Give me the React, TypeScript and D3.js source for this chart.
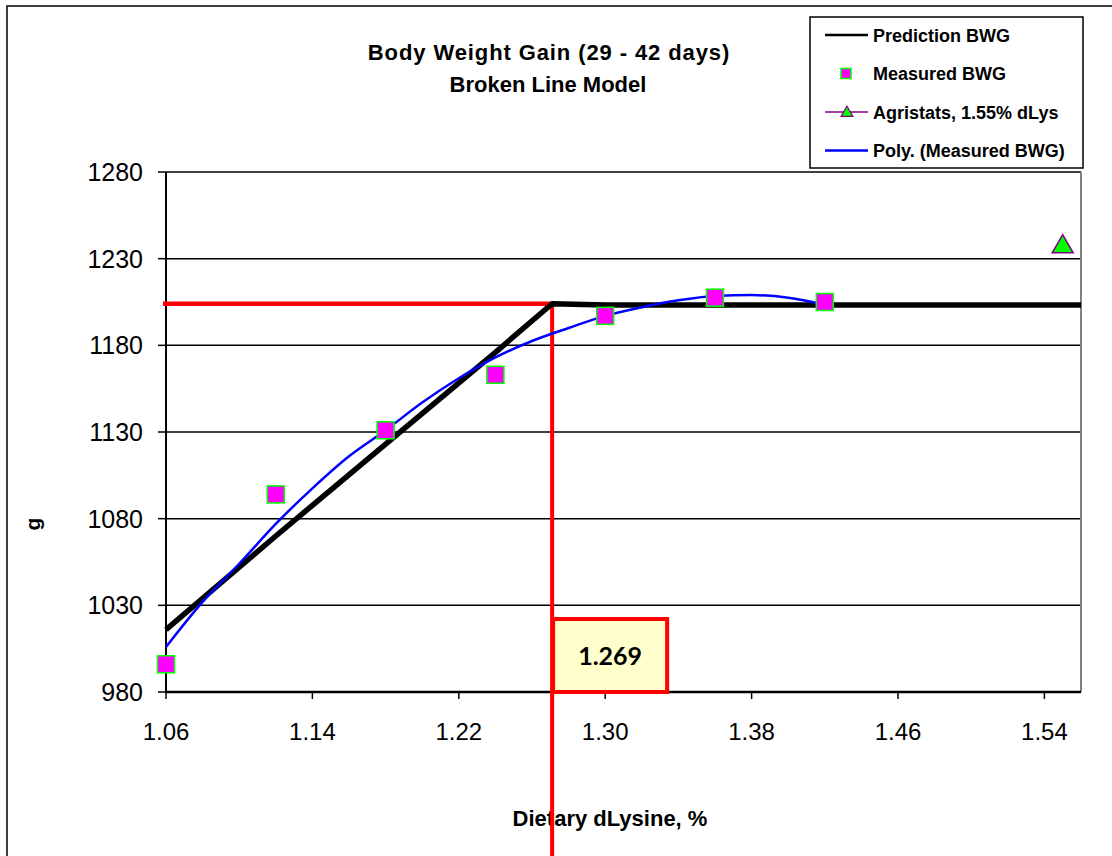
import React from 'react';
import * as d3 from 'd3';

// measured body weight gain (g)
const measuredX = [1.06, 1.12, 1.18, 1.24, 1.30, 1.36, 1.42];
const measuredY = [996, 1094, 1131, 1163, 1197, 1207.5, 1205];

// broken line prediction
const predX = [1.06, 1.12, 1.18, 1.24, 1.271, 1.30, 1.36, 1.42, 1.49, 1.56];
const predY = [1016, 1070, 1123, 1176, 1204, 1203.3, 1203.3, 1203.3, 1203.3, 1203.3];

// poly trendline through measured
const polyX = [1.06, 1.08, 1.10, 1.12, 1.14, 1.16, 1.18, 1.20, 1.22, 1.24, 1.26, 1.28, 1.30, 1.32, 1.34, 1.36, 1.38, 1.40, 1.42];
const polyY = [1006, 1032, 1054, 1077, 1097.5, 1116, 1131, 1147, 1161, 1173, 1182.5, 1190, 1197, 1202, 1206, 1208.5, 1209, 1207.5, 1203.5];

const agriX = [1.55];
const agriY = [1238];

const breakLabel = 1.269;
const breakX = 1.271; // where the guide is drawn in the picture
const breakY = 1204;

const xTicks = [1.06, 1.14, 1.22, 1.30, 1.38, 1.46, 1.54];
const yTicks = [980, 1030, 1080, 1130, 1180, 1230, 1280];

const legendItems = ['Prediction BWG', 'Measured BWG', 'Agristats, 1.55% dLys', 'Poly. (Measured BWG)'];

const font = '"Liberation Sans", Arial, sans-serif';

const App = () => {
  const x = d3.scaleLinear().domain([1.06, 1.56]).range([166, 1081]);
  const y = d3.scaleLinear().domain([980, 1280]).range([692, 172]);

  const predLine = d3.line<number>()
    .x((d, i) => x(predX[i]))
    .y(d => y(d));

  const polyLine = d3.line<number>()
    .x((d, i) => x(polyX[i]))
    .y(d => y(d))
    .curve(d3.curveMonotoneX);

  const tri = d3.symbol().type(d3.symbolTriangle).size(190)();
  const [x0, x1] = x.range();
  const bx = x(breakX);

  return (
    <svg width={1112} height={856} style={{ position: 'absolute', left: 0, top: 0, background: '#fff' }}>
      {/* chart frame */}
      <rect x={7} y={6} width={1120} height={870} fill="#fff" stroke="#000" strokeWidth={1.5} />

      {/* title */}
      <text x={549} y={60} textAnchor="middle" fontFamily={font} fontWeight="bold" fontSize={22} letterSpacing={0.9}>
        Body Weight Gain (29 - 42 days)
      </text>
      <text x={548} y={92} textAnchor="middle" fontFamily={font} fontWeight="bold" fontSize={22}>
        Broken Line Model
      </text>

      {/* gridlines */}
      {yTicks.map(t => (
        <line key={t} x1={x0} x2={x1} y1={y(t)} y2={y(t)} stroke="#000" strokeWidth={1.5} />
      ))}
      <line x1={x1} x2={x1} y1={y(1280)} y2={y(980)} stroke="#808080" strokeWidth={2} />

      {/* axes */}
      <line x1={x0} x2={x0} y1={y(1280)} y2={y(980) + 1} stroke="#000" strokeWidth={2} />
      <line x1={x0} x2={x1} y1={y(980)} y2={y(980)} stroke="#000" strokeWidth={2.5} />
      {yTicks.map(t => (
        <g key={t}>
          <line x1={x0 - 8} x2={x0} y1={y(t)} y2={y(t)} stroke="#000" strokeWidth={1.5} />
          <text x={143} y={y(t) + 9} textAnchor="end" fontFamily={font} fontSize={25}>{t}</text>
        </g>
      ))}
      {xTicks.map(t => (
        <g key={t}>
          <line x1={x(t)} x2={x(t)} y1={y(980)} y2={y(980) + 7} stroke="#000" strokeWidth={1.5} />
          <text x={x(t)} y={740} textAnchor="middle" fontFamily={font} fontSize={24}>{t.toFixed(2)}</text>
        </g>
      ))}

      {/* axis titles */}
      <text transform="translate(40,524) rotate(-90)" textAnchor="middle" fontFamily={font} fontWeight="bold" fontSize={21}>g</text>
      <text x={610} y={826} textAnchor="middle" fontFamily={font} fontWeight="bold" fontSize={22}>Dietary dLysine, %</text>

      {/* breakpoint guides */}
      <line x1={x0 - 3} x2={bx} y1={y(breakY)} y2={y(breakY)} stroke="#ff0000" strokeWidth={4.5} />
      <line x1={bx} x2={bx} y1={y(breakY)} y2={860} stroke="#ff0000" strokeWidth={4} />
      <rect x={bx + 1} y={y(980) - 73} width={114} height={73} fill="#ffffcc" stroke="#ff0000" strokeWidth={4} />
      <text x={bx + 58} y={y(980) - 27} textAnchor="middle" fontFamily="Lato, 'Open Sans', sans-serif" fontWeight="bold" fontSize={25}>
        {breakLabel.toFixed(3)}
      </text>

      {/* series */}
      <path d={predLine(predY) || ''} fill="none" stroke="#000" strokeWidth={5.5} strokeLinejoin="round" />
      <path d={polyLine(polyY) || ''} fill="none" stroke="#0000ff" strokeWidth={2.5} />
      {measuredY.map((v, i) => (
        <rect key={i} x={x(measuredX[i]) - 8.5} y={y(v) - 8.5} width={17} height={17}
          fill="#ff00ff" stroke="#00ff00" strokeWidth={1.5} />
      ))}
      {agriY.map((v, i) => (
        <path key={i} d={tri || ''} transform={`translate(${x(agriX[i])},${y(v) + 2})`}
          fill="#00ff00" stroke="#800080" strokeWidth={1.5} />
      ))}

      {/* legend */}
      <rect x={810} y={17} width={273} height={151} fill="#fff" stroke="#000" strokeWidth={1.5} />
      {legendItems.map((label, i) => {
        const ly = 35 + i * 38.5;
        return (
          <g key={label}>
            {i === 0 && <line x1={825} x2={868} y1={ly} y2={ly} stroke="#000" strokeWidth={2.5} />}
            {i === 1 && <rect x={841} y={ly - 5} width={10} height={10} fill="#ff00ff" stroke="#00ff00" strokeWidth={1.5} />}
            {i === 2 && (
              <g>
                <line x1={825} x2={868} y1={ly} y2={ly} stroke="#800080" strokeWidth={1.5} />
                <path d={d3.symbol().type(d3.symbolTriangle).size(60)() || ''} transform={`translate(847,${ly + 1})`}
                  fill="#00ff00" stroke="#800080" strokeWidth={1.2} />
              </g>
            )}
            {i === 3 && <line x1={825} x2={868} y1={ly} y2={ly} stroke="#0000ff" strokeWidth={2.5} />}
            <text x={873} y={ly + 6.5} fontFamily={font} fontWeight="bold" fontSize={18}>{label}</text>
          </g>
        );
      })}
    </svg>
  );
};

export default App;
